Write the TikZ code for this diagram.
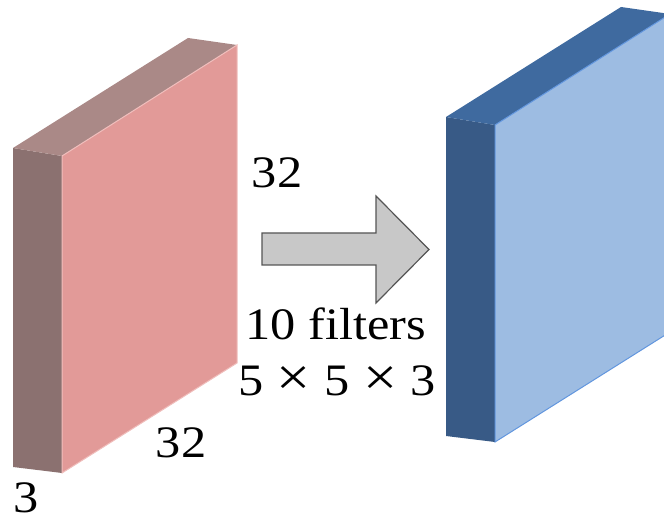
\documentclass[tikz,border=0pt]{standalone}
\usepackage{tikz}
\usepackage{fontspec}
\setmainfont{Liberation Serif}[FakeStretch=1.12]
\definecolor{slabred}{RGB}{226,154,152}
\definecolor{slabredside}{RGB}{139,113,112}
\definecolor{slabredtop}{RGB}{170,137,135}
\definecolor{slabrededge}{RGB}{240,190,188}
\definecolor{slabblue}{RGB}{157,188,226}
\definecolor{slabblueside}{RGB}{56,90,134}
\definecolor{slabbluetop}{RGB}{63,106,159}
\definecolor{slabblueedge}{RGB}{98,150,222}
\definecolor{arrowgrey}{RGB}{200,200,200}
\definecolor{arrowline}{RGB}{85,85,85}
% one volume: side face, top face, front face
\newcommand{\drawslab}[5]{%
  \begin{scope}[shift={#1}]
    \fill[#3] (0,0) -- (49,8) -- (49,325) -- (0,319) -- cycle;
    \fill[#4] (0,0) -- (175,-110) -- (224,-103) -- (49,8) -- cycle;
    \filldraw[fill=#2, draw=#5, line width=1pt] (49,8) -- (224,-103) -- (224,215) -- (49,325) -- cycle;
  \end{scope}}
\newcommand{\tms}{\hspace{0.3em}{\fontsize{54}{54}\selectfont ×}\hspace{0.3em}}

\begin{document}
\begin{tikzpicture}[x=1pt, y=-1pt,
    lbl/.style={anchor=base, inner sep=0pt, font=\fontsize{45}{54}\selectfont},
    bigarrow/.style={draw=arrowline, fill=arrowgrey, line width=1.2pt, line join=miter}
]
    \clip (0,0) rectangle (664,521);

    \drawslab{(13,148)}{slabred}{slabredside}{slabredtop}{slabrededge}
    \drawslab{(446,117)}{slabblue}{slabblueside}{slabbluetop}{slabblueedge}

    \draw[bigarrow] (262,233) -- (376,233) -- (376,196) -- (429,249.5)
        -- (376,303) -- (376,265) -- (262,265) -- cycle;

    \node[lbl] (width) at (277,188) {32};
    \node[lbl] (height) at (181,457) {32};
    \node[lbl] (depth) at (26.5,512) {3};
    \node[lbl] (nfilters) at (335.5,340) {10 filters};
    \node[lbl] (fsize) at (337,395) {5\tms5\tms3};
\end{tikzpicture}
\end{document}
